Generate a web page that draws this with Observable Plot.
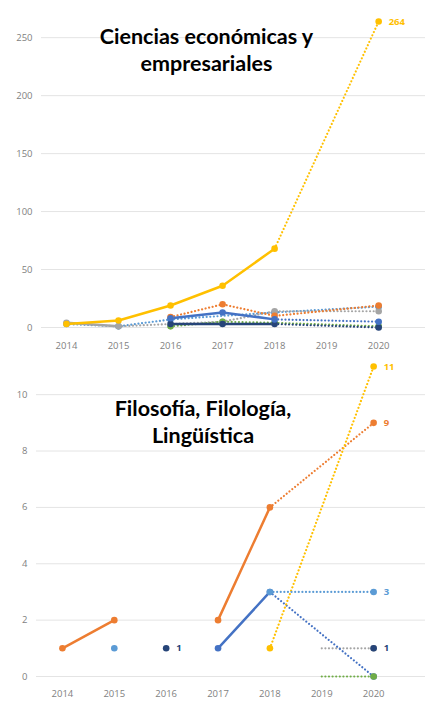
<!DOCTYPE html>
<html><head><meta charset="utf-8">
<script src="https://cdn.jsdelivr.net/npm/d3@7"></script>
<script src="https://cdn.jsdelivr.net/npm/@observablehq/plot@0.6"></script>
<style>
body{margin:0;background:#fff;}
#c svg{display:block;}
</style>
</head><body><div id="c"></div>
<script>
// ---- shared ----
const years = [2014, 2015, 2016, 2017, 2018, 2019, 2020];
const seriesNames = ["Serie A", "Serie B", "Serie C", "Serie D", "Serie E", "Serie F", "Serie G"];
const seriesColors = ["#FFC000", "#ED7D31", "#A5A5A5", "#4472C4", "#5B9BD5", "#70AD47", "#264478"];

// ---- Ciencias económicas y empresariales ----
const econTitle = "Ciencias económicas y\nempresariales";
const econTicksY = [0, 50, 100, 150, 200, 250];
const econSolidA  = [3, 6, 19, 36, 68, null, null];
const econDottedA = [null, null, null, null, 68, null, 264];
const econSolidB  = [null, null, null, null, null, null, null];
const econDottedB = [null, null, 9, 20, 10, null, 19];
const econSolidC  = [4, 1, null, null, null, null, null];
const econDottedC = [null, 1, null, 5, 14, null, 14];
const econSolidD  = [null, null, 8, 13, 7, null, null];
const econDottedD = [null, null, null, null, 7, null, 5];
const econSolidE  = [null, null, null, null, null, null, null];
const econDottedE = [3, 1, 7, null, 13, null, 18];
const econSolidF  = [null, null, null, null, null, null, null];
const econDottedF = [null, null, 1, 5, 4, null, 1];
const econSolidG  = [null, null, 3, 3, 3, null, null];
const econDottedG = [null, null, null, null, 3, null, 0];
const econLabels = [{series: "Serie A", year: 2020}];

// ---- Filosofía, Filología, Lingüística ----
const filoTitle = "Filosofía, Filología,\nLingüística";
const filoTicksY = [0, 2, 4, 6, 8, 10];
const filoSolidC  = [null, null, null, null, null, null, null];
const filoDottedC = [null, null, null, null, null, 1, 1];
const filoSolidF  = [null, null, null, null, null, null, null];
const filoDottedF = [null, null, null, null, null, 0, 0];
const filoSolidD  = [null, null, null, 1, 3, null, null];
const filoDottedD = [null, null, null, null, 3, null, 0];
const filoSolidB  = [1, 2, null, 2, 6, null, null];
const filoDottedB = [null, null, null, null, 6, null, 9];
const filoSolidA  = [null, null, null, null, 1, null, null];
const filoDottedA = [null, null, null, null, 1, null, 11];
const filoSolidE  = [null, 1, null, null, null, null, null];
const filoDottedE = [null, null, null, null, 3, null, 3];
const filoSolidG  = [null, null, 1, null, null, null, 1];
const filoDottedG = [null, null, null, null, null, null, null];
const filoLabels = [
  {series: "Serie A", year: 2020},
  {series: "Serie B", year: 2020},
  {series: "Serie E", year: 2020},
  {series: "Serie G", year: 2016},
  {series: "Serie G", year: 2020}
];

// ---- build tidy tables ----
function rows(list) {
  const solid = [], dotted = [], pts = new Map();
  for (const [name, s, d] of list) {
    years.forEach((y, i) => {
      solid.push({series: name, year: y, value: s[i] == null ? NaN : s[i]});
      if (d[i] != null) dotted.push({series: name, year: y, value: d[i]});
      for (const v of [s[i], d[i]]) {
        if (v != null && y !== 2019) pts.set(name + "|" + y, {series: name, year: y, value: v});
      }
    });
  }
  return {solid, dotted, points: [...pts.values()]};
}

const econ = rows([
  ["Serie E", econSolidE, econDottedE],
  ["Serie C", econSolidC, econDottedC],
  ["Serie B", econSolidB, econDottedB],
  ["Serie F", econSolidF, econDottedF],
  ["Serie G", econSolidG, econDottedG],
  ["Serie D", econSolidD, econDottedD],
  ["Serie A", econSolidA, econDottedA]
]);
const filo = rows([
  ["Serie C", filoSolidC, filoDottedC],
  ["Serie D", filoSolidD, filoDottedD],
  ["Serie F", filoSolidF, filoDottedF],
  ["Serie B", filoSolidB, filoDottedB],
  ["Serie A", filoSolidA, filoDottedA],
  ["Serie E", filoSolidE, filoDottedE],
  ["Serie G", filoSolidG, filoDottedG]
]);

function labelRows(data, labels) {
  return labels.map(l => data.points.find(p => p.series === l.series && p.year === l.year));
}

function chart(o) {
  const data = o.data;
  return Plot.plot({
    width: 425, height: o.height,
    marginTop: o.marginTop, marginBottom: o.marginBottom, marginLeft: o.marginLeft, marginRight: 0,
    style: {fontFamily: "'Open Sans', sans-serif", fontSize: "9.5px", color: "#7f7f7f", background: "#fff"},
    x: {domain: o.xDomain, ticks: years, tickFormat: d => String(d), tickSize: 0, tickPadding: o.xPad, label: null},
    y: {domain: o.yDomain, ticks: o.yTicks, tickSize: 0, tickPadding: 9, label: null},
    color: {domain: seriesNames, range: seriesColors},
    marks: [
      Plot.gridY(o.yTicks, {stroke: "#e4e4e4", strokeOpacity: 1, strokeWidth: 1}),
      Plot.axisX({ticks: years, tickFormat: d => String(d), tickSize: 0, tickPadding: o.xPad, fill: "#7f7f7f", fontSize: 9.5}),
      Plot.axisY({ticks: o.yTicks, tickSize: 0, tickPadding: 9, fill: "#7f7f7f", fontSize: 9.5}),
      Plot.text([o.title], {frameAnchor: "top", dx: o.titleDx, dy: o.titleDy, lineAnchor: "top",
        lineHeight: 1.26, fontSize: 21.5, fontWeight: "bold", fill: "#000",
        fontFamily: "Lato, sans-serif", text: d => d}),
      Plot.line(data.dotted, {x: "year", y: "value", z: "series", stroke: "series",
        strokeWidth: 2.2, strokeDasharray: "0.01 3.6", strokeLinecap: "round"}),
      Plot.line(data.solid, {x: "year", y: "value", z: "series", stroke: "series", strokeWidth: 2.5}),
      Plot.dot(data.points, {x: "year", y: "value", fill: "series", r: 3.3}),
      Plot.text(labelRows(data, o.labels), {x: "year", y: "value", text: d => String(d.value),
        fill: "series", textAnchor: "start", dx: 10, fontSize: 9.5, fontWeight: "bold"})
    ]
  });
}

const root = document.getElementById("c");
root.appendChild(chart({
  data: econ, height: 357, marginTop: 14, marginBottom: 30, marginLeft: 41,
  xDomain: [2013.52, 2020.9], yDomain: [0, 270], yTicks: econTicksY, xPad: 15,
  title: econTitle, titleDx: -27, titleDy: 10, labels: econLabels
}));
root.appendChild(chart({
  data: filo, height: 350, marginTop: 9, marginBottom: 31, marginLeft: 36,
  xDomain: [2013.5, 2021.0], yDomain: [0, 11], yTicks: filoTicksY, xPad: 14,
  title: filoTitle, titleDx: -28, titleDy: 30, labels: filoLabels
}));
</script>
</body></html>
